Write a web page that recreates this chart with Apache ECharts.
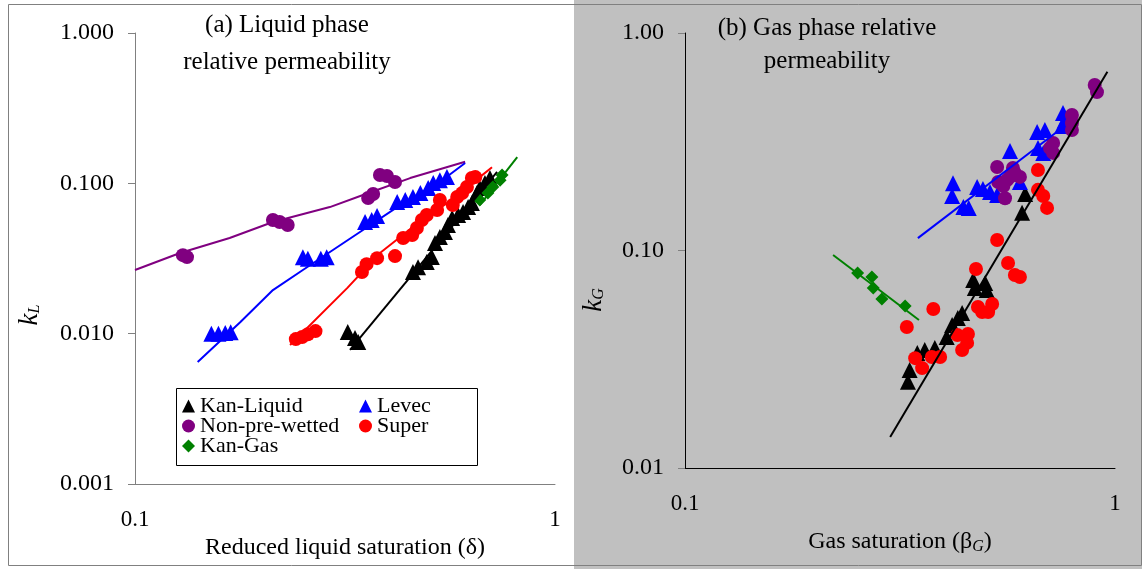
<!DOCTYPE html>
<html>
<head>
<meta charset="utf-8">
<script src="https://cdn.jsdelivr.net/npm/echarts@6/dist/echarts.min.js"></script>
<style>
html, body { margin: 0; padding: 0; background: #fff; }
#chart { width: 1142px; height: 569px; background: linear-gradient(to right, #fff 574px, #c0c0c0 574px); }
</style>
</head>
<body>
<div id="chart"></div>
<script>
// (a) liquid phase: [reduced liquid saturation, kL]
const leftKanLiquid = [[0.321,0.01025],[0.334,0.00935],[0.34,0.0088],[0.459,0.0257],[0.472,0.0277],[0.495,0.030],[0.509,0.0323],
    [0.518,0.0401],[0.532,0.0439],[0.547,0.0474],[0.556,0.0528],[0.569,0.0588],[0.588,0.0615],[0.604,0.0644],[0.621,0.0695],
    [0.634,0.0739],[0.652,0.0861],[0.662,0.0931],[0.681,0.1005],[0.70,0.1084]]
const leftLevec = [[0.152,0.0100],[0.158,0.0100],[0.164,0.0101],[0.169,0.0102],[0.251,0.0322],[0.258,0.0315],[0.277,0.0315],[0.286,0.0322],
    [0.353,0.0553],[0.366,0.057],[0.377,0.0606],[0.421,0.0751],[0.44,0.0774],[0.459,0.0811],[0.478,0.0861],[0.499,0.0931],
    [0.513,0.1005],[0.532,0.105],[0.553,0.110]]
const leftNonPre = [[0.130,0.0333],[0.133,0.0323],[0.213,0.057],[0.221,0.0553],[0.231,0.0528],[0.359,0.0798],[0.369,0.0849],
    [0.383,0.1136],[0.398,0.112],[0.416,0.102]]
const leftSuper = [[0.2415,0.0092],[0.25,0.0095],[0.258,0.0099],[0.269,0.0104],[0.347,0.0257],[0.356,0.029],[0.377,0.0318],[0.416,0.0328],
    [0.435,0.0433],[0.457,0.0453],[0.469,0.0504],[0.482,0.057],[0.495,0.0615],[0.524,0.0664],[0.532,0.0774],[0.571,0.0717],
    [0.585,0.0811],[0.601,0.0861],[0.617,0.0945],[0.634,0.1084],[0.646,0.110]]
const leftKanGas = [[0.662,0.0774],[0.692,0.0861],[0.711,0.0945],[0.74,0.105],[0.748,0.1136]]

// fitted curves, panel (a)
const leftFitNonPre = [[0.1,0.0265],[0.128,0.0344],[0.168,0.0433],[0.213,0.0553],[0.291,0.0695],[0.349,0.0836],[0.452,0.1084],[0.611,0.139]]
const leftFitLevec = [[0.141,0.00647],[0.178,0.0119],[0.213,0.0195],[0.251,0.0265],[0.296,0.036],[0.349,0.0489],[0.428,0.0717],[0.532,0.102],[0.611,0.1365]]
const leftFitSuper = [[0.234,0.0084],[0.32,0.0201],[0.383,0.0344],[0.459,0.0512],[0.553,0.0739],[0.662,0.110],[0.708,0.128]]
const leftFitKanLiquid = [[0.325,0.0078],[0.728,0.119]]
const leftFitKanGas = [[0.662,0.0717],[0.813,0.1496]]

const leftNoteText = ['1.0', '1.9', '2.5', '3.5', '3.2']
const leftNoteAt = [[0.156,0.0528],[0.181,0.0195],[0.275,0.0186],[0.43,0.0133],[0.839,0.0861]]

// (b) gas phase: [gas saturation, kG]
const rightKanLiquid = [[0.330,0.0249],[0.333,0.0282],[0.347,0.0338],[0.361,0.0349],[0.381,0.0356],[0.406,0.040],[0.418,0.0454],
    [0.431,0.049],[0.441,0.0516],[0.468,0.0732],[0.472,0.0672],[0.499,0.0709],[0.503,0.0658],[0.608,0.149],[0.618,0.182]]
const rightLevec = [[0.420,0.204],[0.418,0.178],[0.444,0.1585],[0.457,0.157],[0.478,0.196],[0.493,0.192],[0.512,0.186],[0.532,0.18],
    [0.570,0.287],[0.601,0.2065],[0.659,0.351],[0.687,0.358],[0.662,0.296],[0.681,0.281],[0.757,0.429],[0.766,0.398],[0.753,0.374]]
const rightNonPre = [[0.532,0.242],[0.535,0.2065],[0.555,0.174],[0.570,0.218],[0.579,0.2395],[0.585,0.227],[0.561,0.211],[0.55,0.198],
    [0.601,0.218],[0.718,0.312],[0.706,0.296],[0.718,0.281],[0.794,0.42],[0.794,0.386],[0.794,0.358],[0.897,0.577],[0.908,0.535]]
const rightSuper = [[0.662,0.2345],[0.662,0.19],[0.681,0.178],[0.695,0.157],[0.532,0.1117],[0.475,0.0822],[0.564,0.0876],[0.585,0.0772],
    [0.601,0.0755],[0.378,0.0538],[0.328,0.0445],[0.48,0.055],[0.491,0.0521],[0.507,0.0521],[0.518,0.0568],[0.43,0.0409],
    [0.455,0.0413],[0.453,0.0376],[0.441,0.0349],[0.343,0.032],[0.356,0.0288],[0.375,0.0324],[0.392,0.0324]]
const rightKanGas = [[0.252,0.0788],[0.272,0.0755],[0.274,0.0672],[0.287,0.0598],[0.325,0.0556]]

const rightFitLevec = [[0.348,0.114],[0.753,0.366]]
const rightFitKanGas = [[0.221,0.0953],[0.350,0.0479]]
const rightFitKanLiquid = [[0.30,0.0139],[0.96,0.664]]

const rightNoteText = ['1.5', '-1.5', '3.3']
const rightNoteAt = [[0.347,0.165],[0.247,0.107],[0.392,0.0199]]

const serif = '"Liberation Serif", "Times New Roman", serif'
const sans = '"Liberation Sans", Arial, sans-serif'
const BLACK = '#000000', BLUE = '#0000ff', PURPLE = '#800080', RED = '#ff0000', GREEN = '#008000'

function xAxisOf(grid, name, gap, color) {
    return {
        type: 'log', logBase: 10, gridIndex: grid, min: 0.1, max: 1,
        axisLine: { show: true, onZero: false, lineStyle: { color: color, width: 1 } },
        axisTick: { show: false },
        splitLine: { show: false },
        axisLabel: {
            color: '#000', fontFamily: serif, fontSize: 23, margin: 24,
            formatter: function (v) { return String(Number(v.toPrecision(2))) }
        },
        name: name, nameLocation: 'middle', nameGap: gap,
        nameTextStyle: {
            color: '#000', fontFamily: serif, fontSize: 24,
            rich: {
                a: { color: '#000', fontFamily: serif, fontSize: 24 },
                s: { color: '#000', fontFamily: serif, fontSize: 16, fontStyle: 'italic', padding: [10, 0, 0, 0] }
            }
        }
    }
}

function yAxisOf(grid, min, digits, color) {
    return {
        type: 'log', logBase: 10, gridIndex: grid, min: min, max: 1,
        axisLine: { show: true, onZero: false, lineStyle: { color: color, width: 1 } },
        axisTick: { show: true, length: 7, lineStyle: { color: '#808080' } },
        splitLine: { show: false },
        axisLabel: {
            color: '#000', fontFamily: serif, fontSize: 24, margin: 21,
            formatter: function (v) { return v.toFixed(digits) }
        }
    }
}

function points(name, data, symbol, size, color, axis) {
    return {
        name: name, type: 'scatter', data: data, xAxisIndex: axis, yAxisIndex: axis,
        symbol: symbol, symbolSize: size, itemStyle: { color: color, opacity: 1 }, z: 3
    }
}

function fit(data, color, axis) {
    return {
        type: 'line', data: data, xAxisIndex: axis, yAxisIndex: axis,
        showSymbol: false, symbol: 'none', lineStyle: { color: color, width: 2 }, z: 4, silent: true
    }
}

function notes(texts, at, colors, axis) {
    return {
        type: 'scatter', xAxisIndex: axis, yAxisIndex: axis, symbolSize: 1, silent: true, z: 5,
        itemStyle: { opacity: 0 },
        data: at.map(function (p, i) {
            return {
                value: p,
                label: { show: true, position: 'inside', formatter: texts[i], color: colors[i], fontFamily: sans, fontSize: 19 }
            }
        })
    }
}

const legendText = { color: '#000', fontFamily: serif, fontSize: 22, lineHeight: 20 }

var option = {
    animation: false,
    grid: [
        { left: 135, top: 33, width: 420, height: 451 },
        { left: 685, top: 33, width: 430, height: 435 }
    ],
    title: [
        { text: '(a) Liquid phase\nrelative permeability', left: 282, top: 2, textAlign: 'center',
          textStyle: { fontFamily: serif, fontSize: 25, fontWeight: 'normal', color: '#000', lineHeight: 37 } },
        { text: '(b) Gas phase relative\npermeability', left: 822, top: 7, textAlign: 'center',
          textStyle: { fontFamily: serif, fontSize: 25, fontWeight: 'normal', color: '#000', lineHeight: 33 } }
    ],
    legend: [
        { left: 182, top: 395, orient: 'vertical', padding: 0, itemGap: -2, itemWidth: 13, itemHeight: 13,
          data: ['Kan-Liquid', 'Non-pre-wetted', 'Kan-Gas'], textStyle: legendText, selectedMode: false },
        { left: 359, top: 395, orient: 'vertical', padding: 0, itemGap: -2, itemWidth: 13, itemHeight: 13,
          data: ['Levec', 'Super'], textStyle: legendText, selectedMode: false }
    ],
    xAxis: [
        xAxisOf(0, 'Reduced liquid saturation (δ)', 52, '#808080'),
        xAxisOf(1, '{a|Gas saturation (β}{s|G}{a|)}', 61, '#000')
    ],
    yAxis: [
        yAxisOf(0, 0.001, 3, '#808080'),
        yAxisOf(1, 0.01, 2, '#000')
    ],
    graphic: [
        { type: 'rect', shape: { x: 8.5, y: 4.5, width: 1133, height: 561 }, style: { fill: 'none', stroke: '#808080', lineWidth: 1 } },
        { type: 'rect', shape: { x: 176.5, y: 388.5, width: 301, height: 77 }, style: { fill: 'none', stroke: '#000', lineWidth: 1 } },
        { type: 'text', x: 30, y: 315, rotation: Math.PI / 2,
          style: { text: '{k|k}{s|L}', align: 'center', verticalAlign: 'middle',
                   rich: { k: { fontFamily: serif, fontSize: 27, fontStyle: 'italic', fill: '#000' },
                           s: { fontFamily: serif, fontSize: 16, fontStyle: 'italic', fill: '#000', padding: [10, 0, 0, 0] } } } },
        { type: 'text', x: 594, y: 300, rotation: Math.PI / 2,
          style: { text: '{k|k}{s|G}', align: 'center', verticalAlign: 'middle',
                   rich: { k: { fontFamily: serif, fontSize: 27, fontStyle: 'italic', fill: '#000' },
                           s: { fontFamily: serif, fontSize: 16, fontStyle: 'italic', fill: '#000', padding: [10, 0, 0, 0] } } } }
    ],
    series: [
        points('Kan-Liquid', leftKanLiquid, 'triangle', 16, BLACK, 0),
        points('Levec', leftLevec, 'triangle', 16, BLUE, 0),
        points('Non-pre-wetted', leftNonPre, 'circle', 14, PURPLE, 0),
        points('Super', leftSuper, 'circle', 14, RED, 0),
        points('Kan-Gas', leftKanGas, 'diamond', 13, GREEN, 0),
        fit(leftFitNonPre, PURPLE, 0),
        fit(leftFitLevec, BLUE, 0),
        fit(leftFitSuper, RED, 0),
        fit(leftFitKanLiquid, BLACK, 0),
        fit(leftFitKanGas, GREEN, 0),
        notes(leftNoteText, leftNoteAt, [PURPLE, BLUE, RED, BLACK, GREEN], 0),

        points('Kan-Liquid', rightKanLiquid, 'triangle', 16, BLACK, 1),
        points('Levec', rightLevec, 'triangle', 16, BLUE, 1),
        points('Non-pre-wetted', rightNonPre, 'circle', 14, PURPLE, 1),
        points('Super', rightSuper, 'circle', 14, RED, 1),
        points('Kan-Gas', rightKanGas, 'diamond', 13, GREEN, 1),
        fit(rightFitLevec, BLUE, 1),
        fit(rightFitKanGas, GREEN, 1),
        fit(rightFitKanLiquid, BLACK, 1),
        notes(rightNoteText, rightNoteAt, [BLUE, GREEN, BLACK], 1)
    ]
}

var myChart = echarts.init(document.getElementById('chart'))
myChart.setOption(option)
</script>
</body>
</html>
